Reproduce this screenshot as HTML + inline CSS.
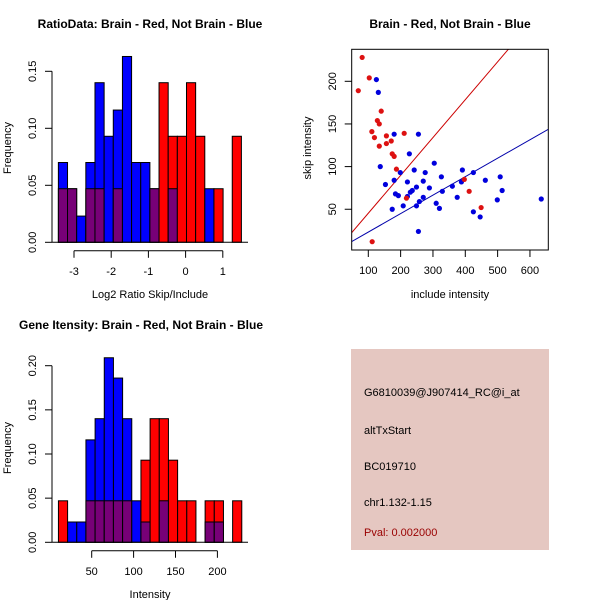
<!DOCTYPE html>
<html><head><meta charset="utf-8"><style>
body{margin:0;background:#fff}
svg{display:block;font-family:"Liberation Sans",sans-serif}
</style></head><body>
<svg id="s" width="600" height="600" xmlns="http://www.w3.org/2000/svg">
<rect width="600" height="600" fill="#fff"/>
<g>
<rect x="351" y="349" width="198" height="201" fill="#e5c7c1"/>
<text x="364" y="396" font-size="11">G6810039@J907414_RC@i_at</text>
<text x="364" y="434" font-size="11">altTxStart</text>
<text x="364" y="470" font-size="11">BC019710</text>
<text x="364" y="506" font-size="11">chr1.132-1.15</text>
<text x="364" y="536" font-size="11" fill="#990000">Pval: 0.002000</text>
</g>
</svg>
<script>
// ---- ratio histogram data ----
const ratioStart = -3.42, ratioWidth = 0.246;
const ratioBlue = [0.07,0.047,0.023,0.07,0.14,0.093,0.116,0.163,0.07,0.07,0.047,0,0.047,0,0,0,0.047,0,0,0];
const ratioRed  = [0.047,0.047,0,0.047,0.047,0,0.047,0,0,0,0.047,0.14,0.093,0.093,0.14,0.093,0,0.047,0,0.093];
const ratioXTicks = [-3,-2,-1,0,1];
const ratioYTicks = ["0.00","0.05","0.10","0.15"];
// ---- intensity histogram data ----
const intStart = 10.3, intWidth = 10.94;
const intBlue = [0,0.023,0.023,0.116,0.14,0.209,0.186,0.14,0.047,0.023,0,0.047,0,0,0,0,0.023,0.023,0,0];
const intRed  = [0.047,0,0,0.047,0.047,0.047,0.047,0.047,0,0.093,0.14,0.14,0.093,0.047,0.047,0,0.047,0.047,0,0.047];
const intXTicks = [50,100,150,200];
const intYTicks = ["0.00","0.05","0.10","0.15","0.20"];
// ---- scatter data ----
const redX = [81,69,103,111,119,128,134,140,134,156,156,171,174,180,187,211,218,112,397,412,449];
const redY = [228,189,204,141,134,154,150,165,124,136,127,130,115,112,97,139,63,12,85,71,52];
const blueX = [125,131,137,180,153,180,199,174,184,193,208,221,227,221,230,236,242,249,249,255,258,255,270,270,276,289,304,310,320,326,329,360,375,388,391,425,425,446,462,499,508,514,635];
const blueY = [202,187,100,138,79,84,93,50,68,66,54,82,115,65,70,72,96,76,54,138,59,24,83,64,93,75,104,57,51,88,71,77,64,82,96,93,47,41,84,61,88,72,62];
const scXTicks = [100,200,300,400,500,600];
const scYTicks = [50,100,150,200];
const redLine = {a:1, b:0.4436};
const blueLine = {a:1.6, b:0.2165};

const svg = document.getElementById('s');
const NS = 'http://www.w3.org/2000/svg';
function mk(tag, attrs, parent){const e=document.createElementNS(NS,tag);for(const k in attrs)e.setAttribute(k,attrs[k]);(parent||svg).appendChild(e);return e;}
function txt(s, attrs, parent){const e=mk('text',attrs,parent);e.textContent=s;return e;}

function hist(cfg){
  const g = mk('g',{});
  
  
  const X = v => cfg.x0 + (v - cfg.xv0) * cfg.xs;
  const Y = v => cfg.y0 - v * cfg.ys;
  for (let i=0;i<cfg.blue.length;i++){
    const b=cfg.blue[i], r=cfg.red[i];
    const xl=X(cfg.start+i*cfg.width), xr=X(cfg.start+(i+1)*cfg.width);
    const mx=Math.max(b,r), mn=Math.min(b,r);
    if (mx>0){
      const e=mk('rect',{x:xl,y:Y(mx),width:xr-xl,height:Y(0)-Y(mx),fill:b>r?'#0000ff':'#ff0000',stroke:'#000','stroke-width':1},g);
      
      
    }
    if (mn>0){
      const e=mk('rect',{x:xl,y:Y(mn),width:xr-xl,height:Y(0)-Y(mn),fill:'#770077',stroke:'#000','stroke-width':1},g);
      
      
    }
  }
  mk('line',{x1:52,x2:248,y1:Y(0),y2:Y(0),stroke:'#000'},g);
  const yt=cfg.yticks.map(Number);
  mk('line',{x1:52,x2:52,y1:Y(yt[0]),y2:Y(yt[yt.length-1]),stroke:'#000'},g);
  cfg.yticks.forEach(t=>{const y=Y(+t);mk('line',{x1:45,x2:52,y1:y,y2:y,stroke:'#000'},g);
    const e=txt(t,{x:36,y:y,'font-size':11,'text-anchor':'middle',transform:`rotate(-90 36 ${y})`},g);
    
    });
  const ay=cfg.y0+8.5;
  mk('line',{x1:X(cfg.xticks[0]),x2:X(cfg.xticks[cfg.xticks.length-1]),y1:ay,y2:ay,stroke:'#000'},g);
  cfg.xticks.forEach(t=>{const x=X(t);mk('line',{x1:x,x2:x,y1:ay,y2:ay+7,stroke:'#000'},g);
    const e=txt(String(t),{x:x,y:ay+24,'font-size':11,'text-anchor':'middle'},g);
    
    });
}
hist({name:'ratio-histogram',start:ratioStart,width:ratioWidth,blue:ratioBlue,red:ratioRed,x0:74,xv0:-3,xs:37.2,y0:242.3,ys:1140,xticks:ratioXTicks,yticks:ratioYTicks});
hist({name:'intensity-histogram',start:intStart,width:intWidth,blue:intBlue,red:intRed,x0:91.7,xv0:50,xs:0.838,y0:542.3,ys:883,xticks:intXTicks,yticks:intYTicks});

(function(){
  const g=mk('g',{});
  
  
  const X=v=>368.3+(v-100)*0.3233, Y=v=>81.3-(v-200)*0.853;
  const L=351.7,R=548.3,T=49.3,B=250;
  const cp=mk('clipPath',{id:'cp'},g);mk('rect',{x:L,y:T,width:R-L,height:B-T},cp);
  const x1=(L-368.3)/0.3233+100,x2=(R-368.3)/0.3233+100;
  [[redLine,'#cc0000','red-fit-line'],[blueLine,'#0000aa','blue-fit-line']].forEach(([ln,c,n])=>{
    const e=mk('line',{x1:X(x1),x2:X(x2),y1:Y(ln.a+ln.b*x1),y2:Y(ln.a+ln.b*x2),stroke:c,'clip-path':'url(#cp)'},g);
    
    
  });
  blueX.forEach((v,i)=>{const e=mk('circle',{cx:X(v),cy:Y(blueY[i]),r:2.6,fill:'#0000dd'},g);
    
    });
  redX.forEach((v,i)=>{const e=mk('circle',{cx:X(v),cy:Y(redY[i]),r:2.6,fill:'#dd1111'},g);
    
    });
  mk('rect',{x:L,y:T,width:R-L,height:B-T,fill:'none',stroke:'#000'},g);
  scXTicks.forEach(t=>{const x=X(t);mk('line',{x1:x,x2:x,y1:B,y2:B+7,stroke:'#000'},g);
    const e=txt(String(t),{x:x,y:B+24,'font-size':11,'text-anchor':'middle'},g);
    
    });
  scYTicks.forEach(t=>{const y=Y(t);mk('line',{x1:L-7,x2:L,y1:y,y2:y,stroke:'#000'},g);
    const e=txt(String(t),{x:336,y:y,'font-size':11,'text-anchor':'middle',transform:`rotate(-90 336 ${y})`},g);
    
    });
})();

[
 ['RatioData: Brain - Red, Not Brain - Blue',150,28,'bold','ratio-title'],
 ['Brain - Red, Not Brain - Blue',450,28,'bold','scatter-title'],
 ['Gene Itensity: Brain - Red, Not Brain - Blue',141,329,'bold','intensity-title'],
 ['Log2 Ratio Skip/Include',150,298,'normal','ratio-x-title'],
 ['include intensity',450,298,'normal','scatter-x-title'],
 ['Intensity',150,598,'normal','intensity-x-title'],
].forEach(([s,x,y,w,n])=>{const e=txt(s,{x:x,y:y,'font-size':w==='bold'?12:11,'font-weight':w,'text-anchor':'middle'});
  
  });
[['Frequency',11,148,'ratio-y-title'],['skip intensity',311,148,'scatter-y-title'],['Frequency',11,448,'intensity-y-title']].forEach(([s,x,y,n])=>{
  const e=txt(s,{x:x,y:y,'font-size':11,'text-anchor':'middle',transform:`rotate(-90 ${x} ${y})`});
  
  });
</script>
</body></html>
